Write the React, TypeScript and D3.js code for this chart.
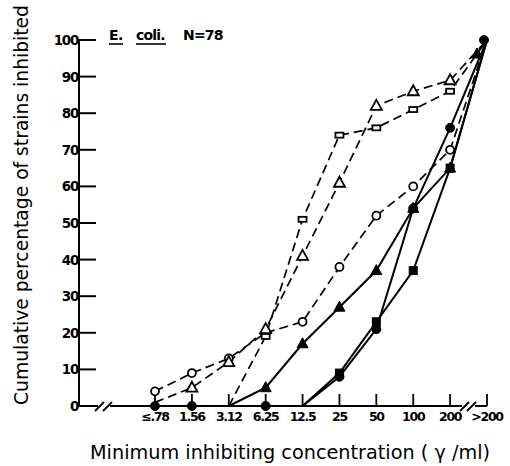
import React from "react";
import * as d3 from "d3";

const categories = ["≤.78", "1.56", "3.12", "6.25", "12.5", "25", "50", "100", "200", ">200"];
const yTicks = [0, 10, 20, 30, 40, 50, 60, 70, 80, 90, 100];

const openCircle: (number | null)[] = [4, 9, 13, 20, 23, 38, 52, 60, 70, 100];
const openTriangle: (number | null)[] = [1, 5, 12, 21, 41, 61, 82, 86, 89, 100];
const openSquare: (number | null)[] = [null, null, 0, 19, 51, 74, 76, 81, 86, 100];
const filledTriangle: (number | null)[] = [null, null, 0, 5, 17, 27, 37, 54, 65, 100];
const filledCircle: (number | null)[] = [0, 0, 0, 0, 0, 8, 21, 54, 76, 100];
const filledSquare: (number | null)[] = [null, null, null, null, 0, 9, 23, 37, 65, 100];

// which points carry a visible symbol (the rest are hidden under other marks in the original)
const openCircleShown = [1, 1, 1, 1, 1, 1, 1, 1, 1, 0];
const openTriangleShown = [0, 1, 1, 1, 1, 1, 1, 1, 1, 0];
const openSquareShown = [0, 0, 0, 1, 1, 1, 1, 1, 1, 0];
const filledTriangleShown = [0, 0, 0, 1, 1, 1, 1, 1, 1, 1];
const filledCircleShown = [1, 1, 0, 1, 0, 1, 1, 1, 1, 1];
const filledSquareShown = [0, 0, 0, 0, 0, 1, 1, 1, 1, 0];

type Series = { name: string; values: (number | null)[]; shown: number[]; dashed: boolean; marker: string; filled: boolean };
const series: Series[] = [
  { name: "openCircle", values: openCircle, shown: openCircleShown, dashed: true, marker: "circle", filled: false },
  { name: "openTriangle", values: openTriangle, shown: openTriangleShown, dashed: true, marker: "triangle", filled: false },
  { name: "openSquare", values: openSquare, shown: openSquareShown, dashed: true, marker: "square", filled: false },
  { name: "filledTriangle", values: filledTriangle, shown: filledTriangleShown, dashed: false, marker: "triangle", filled: true },
  { name: "filledSquare", values: filledSquare, shown: filledSquareShown, dashed: false, marker: "square", filled: true },
  { name: "filledCircle", values: filledCircle, shown: filledCircleShown, dashed: false, marker: "circle", filled: true },
];

const FONT = "'DejaVu Sans', 'Liberation Sans', Arial, sans-serif";

export default function App() {
  const x = d3.scalePoint<string>().domain(categories).range([155, 487]);
  const y = d3.scaleLinear().domain([0, 100]).range([406, 40]);
  const axisX = 79;
  const baseY = y(0);

  const line = d3
    .line<{ c: string; v: number | null }>()
    .defined((d) => d.v !== null)
    .x((d) => x(d.c)!)
    .y((d) => y(d.v as number));

  const last = categories.length - 1;

  const marker = (s: Series, cx: number, cy: number, key: string) => {
    const fill = s.filled ? "#000" : "#fff";
    const sw = s.filled ? 1 : 1.8;
    if (s.marker === "circle") {
      return <circle key={key} cx={cx} cy={cy} r={s.filled ? 4.5 : 4} fill={fill} stroke="#000" strokeWidth={sw} />;
    }
    if (s.marker === "triangle") {
      const h = 10;
      const w = 11;
      const p = `M${cx},${cy - h * 0.6} L${cx + w / 2},${cy + h * 0.4} L${cx - w / 2},${cy + h * 0.4} Z`;
      return <path key={key} d={p} fill={fill} stroke="#000" strokeWidth={sw} strokeLinejoin="miter" />;
    }
    const w = 8;
    const h = s.filled ? 8 : 5;
    return <rect key={key} x={cx - w / 2} y={cy - h / 2} width={w} height={h} fill={fill} stroke="#000" strokeWidth={sw} />;
  };

  return (
    <svg width={510} height={466} style={{ position: "absolute", left: 0, top: 0, background: "#fff" }}>
      <rect width={510} height={466} fill="#fff" />
      {/* Y axis */}
      <line x1={axisX} x2={axisX} y1={y(100) - 1} y2={baseY + 1} stroke="#000" strokeWidth={2} />
      {yTicks.map((t) => (
        <g key={t}>
          <line x1={axisX} x2={axisX + 17} y1={y(t)} y2={y(t)} stroke="#000" strokeWidth={2} />
          <text x={axisX - 1} y={y(t) + 5} textAnchor="end" fontFamily={FONT} fontWeight="bold" fontSize={13.5} letterSpacing={-1.3}>
            {t}
          </text>
        </g>
      ))}
      {/* X axis */}
      <line x1={axisX} x2={98} y1={baseY} y2={baseY} stroke="#000" strokeWidth={2} />
      <line x1={110} x2={x("200")! + 12} y1={baseY} y2={baseY} stroke="#000" strokeWidth={2} />
      <line x1={475} x2={x(">200")!} y1={baseY} y2={baseY} stroke="#000" strokeWidth={2} />
      <line x1={95} x2={104} y1={baseY + 5} y2={baseY - 4} stroke="#000" strokeWidth={1.8} />
      <line x1={103} x2={112} y1={baseY + 5} y2={baseY - 4} stroke="#000" strokeWidth={1.8} />
      <line x1={460} x2={469} y1={baseY + 5} y2={baseY - 4} stroke="#000" strokeWidth={1.8} />
      <line x1={467} x2={476} y1={baseY + 5} y2={baseY - 4} stroke="#000" strokeWidth={1.8} />
      {categories.map((c) => (
        <g key={c}>
          <line x1={x(c)!} x2={x(c)!} y1={baseY} y2={baseY - 12} stroke="#000" strokeWidth={1.8} />
          <text x={x(c)!} y={baseY + 15} textAnchor="middle" fontFamily={FONT} fontWeight="bold" fontSize={12.5} letterSpacing={-1.3}>
            {c}
          </text>
        </g>
      ))}
      {/* Lines */}
      {series.map((s) => (
        <path
          key={s.name}
          d={line(categories.map((c, i) => ({ c, v: s.values[i] })))!}
          fill="none"
          stroke="#000"
          strokeWidth={s.dashed ? 1.7 : 2}
          strokeDasharray={s.dashed ? "9,5" : undefined}
        />
      ))}
      {/* Markers */}
      {series.map((s) =>
        s.values.map((v, i) => {
          if (v === null || !s.shown[i]) return null;
          if (i === last) {
            if (s.marker === "circle") return marker(s, x(categories[i])! - 3, y(v), s.name + i);
            return marker(s, x(categories[i])! - 10, y(v) + 14, s.name + i);
          }
          return marker(s, x(categories[i])!, y(v), s.name + i);
        })
      )}
      {/* Title */}
      <text x={109} y={40} fontFamily={FONT} fontWeight="bold" fontSize={14} letterSpacing={-0.5}>
        E.
      </text>
      <line x1={109} x2={123} y1={44} y2={44} stroke="#000" strokeWidth={1.6} />
      <text x={136} y={40} fontFamily={FONT} fontWeight="bold" fontSize={14} letterSpacing={-0.8}>
        coli.
      </text>
      <line x1={136} x2={166} y1={44} y2={44} stroke="#000" strokeWidth={1.6} />
      <text x={183} y={40} fontFamily={FONT} fontWeight="bold" fontSize={14} letterSpacing={-0.8}>
        N=78
      </text>
      {/* Axis titles */}
      <text
        transform="translate(28,205) rotate(-90)"
        textAnchor="middle"
        fontFamily={FONT}
        fontSize={19}
        fontWeight={500}
        textLength={400}
        lengthAdjust="spacingAndGlyphs"
      >
        Cumulative  percentage  of  strains  inhibited
      </text>
      <text x={90} y={459} fontFamily={FONT} fontSize={19} fontWeight={500} textLength={400} lengthAdjust="spacingAndGlyphs">
        Minimum  inhibiting  concentration  ( γ /ml)
      </text>
    </svg>
  );
}
